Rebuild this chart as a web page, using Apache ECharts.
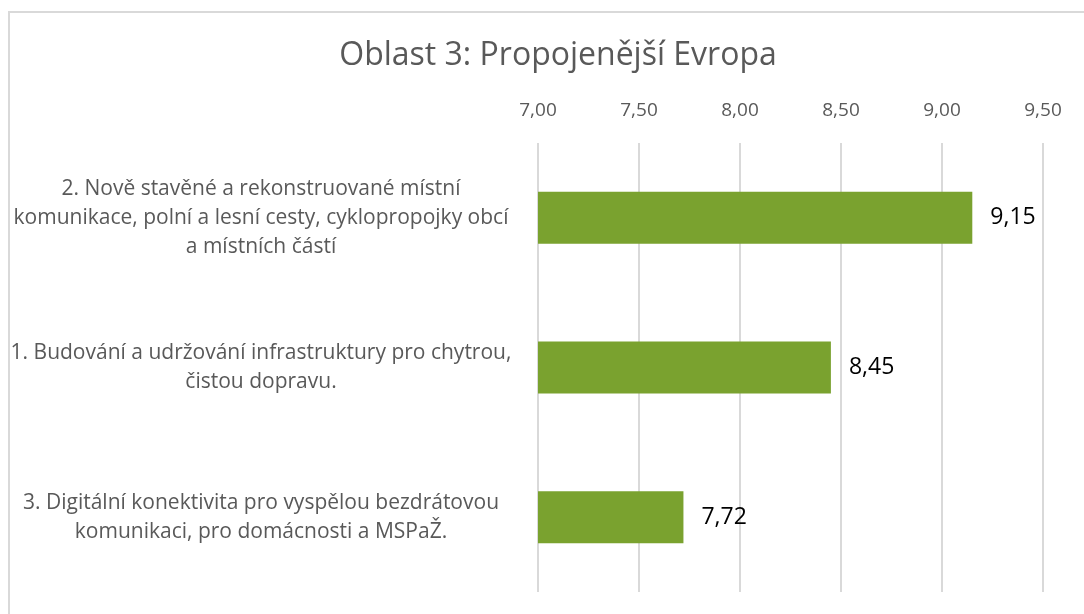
<!DOCTYPE html>
<html>
<head>
<meta charset="utf-8">
<script src="https://cdn.jsdelivr.net/npm/echarts@6/dist/echarts.min.js"></script>
<style>
  html, body { margin: 0; padding: 0; background: #fff; }
  #chart { width: 1084px; height: 614px; }
</style>
</head>
<body>
<div id="chart"></div>
<script>
// data
const categories = [
  '2. Nově stavěné a rekonstruované místní\nkomunikace, polní a lesní cesty, cyklopropojky obcí\na místních částí',
  '1. Budování a udržování infrastruktury pro chytrou,\nčistou dopravu.',
  '3. Digitální konektivita pro vyspělou bezdrátovou\nkomunikaci, pro domácnosti a MSPaŽ.'
]
const values = [9.15, 8.45, 7.72]
const axisMin = 7
const axisMax = 9.5
const axisStep = 0.5

const fmt = v => v.toFixed(2).replace('.', ',')

const chart = echarts.init(document.getElementById('chart'), null, {renderer: 'canvas'})

const option = {
  animation: false,
  textStyle: {fontFamily: 'Open Sans'},
  graphic: [
    {
      type: 'polyline',
      shape: {points: [[9, 614], [9, 12], [1084, 12]]},
      style: {stroke: '#d9d9d9', lineWidth: 2, fill: null}
    }
  ],
  title: {
    text: 'Oblast 3: Propojenější Evropa',
    left: 553,
    textAlign: 'center',
    top: 35,
    textStyle: {fontFamily: 'Open Sans', fontSize: 32, fontWeight: 'normal', color: '#595959'}
  },
  grid: {left: 538, right: 41, top: 143, bottom: 22, containLabel: false},
  xAxis: {
    type: 'value',
    position: 'top',
    min: axisMin,
    max: axisMax,
    interval: axisStep,
    axisLine: {show: false},
    axisTick: {show: false},
    axisLabel: {
      formatter: v => fmt(v),
      fontSize: 19,
      color: '#595959',
      margin: 23
    },
    splitLine: {lineStyle: {color: '#d9d9d9', width: 2}}
  },
  yAxis: {
    type: 'category',
    inverse: true,
    data: categories,
    axisLine: {show: false},
    axisTick: {show: false},
    axisLabel: {
      align: 'center',
      margin: 277,
      fontSize: 21,
      lineHeight: 29,
      color: '#595959'
    }
  },
  series: [
    {
      type: 'bar',
      data: values,
      barWidth: 52,
      itemStyle: {color: '#7aa22f'},
      label: {
        show: true,
        position: 'right',
        distance: 18,
        formatter: p => fmt(p.value),
        fontSize: 23,
        color: '#000'
      }
    }
  ]
}

chart.setOption(option)
</script>
</body>
</html>
